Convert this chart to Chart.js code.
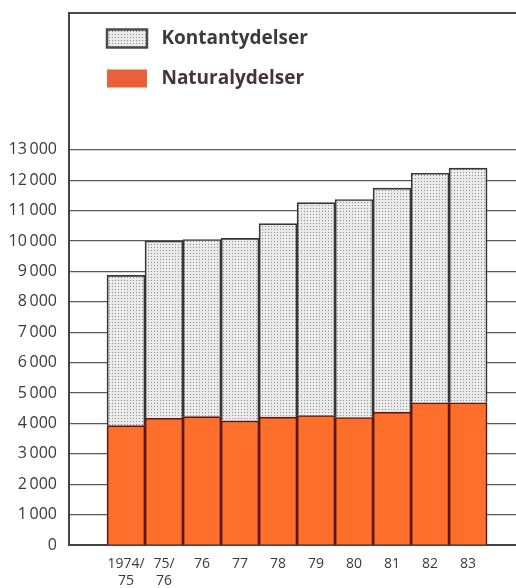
<!DOCTYPE html>
<html>
<head>
<meta charset="utf-8">
<script src="https://cdn.jsdelivr.net/npm/chart.js@4"></script>
<style>
    html, body { margin: 0; padding: 0; background: #fff; }
    #wrap { width: 516px; height: 588px; }
</style>
</head>
<body>
<div id="wrap"><canvas id="chart" width="516" height="588"></canvas></div>
<script>
// years on the x axis (two-line labels for the split years)
const years = [["1974/", "75"], ["75/", "76"], "76", "77", "78", "79", "80", "81", "82", "83"];
// mill. kr
const naturalydelser = [3930, 4170, 4225, 4085, 4205, 4260, 4195, 4370, 4680, 4680];
const kontantydelser = [4940, 5830, 5825, 6005, 6365, 7000, 7170, 7370, 7550, 7715];
const yTicks = [0, 1000, 2000, 3000, 4000, 5000, 6000, 7000, 8000, 9000, 10000, 11000, 12000, 13000];

// dotted grey fill like the printed screen
function dots() {
    let c = document.createElement("canvas");
    c.width = 3;
    c.height = 3;
    let g = c.getContext("2d");
    g.fillStyle = "#ebebeb";
    g.fillRect(0, 0, 3, 3);
    g.fillStyle = "#8a8a8a";
    g.fillRect(1, 1, 1, 1);
    return g.createPattern(c, "repeat");
}
const grey = dots();

// move legend inside the frame, where it sits on the original
const legendNudge = {
    id: "legendNudge",
    afterLayout(chart) {
        chart.legend.left = chart.chartArea.left + 17;
        chart.legend.top = chart.chartArea.top - 5;
    },
};

const ctx = document.getElementById("chart").getContext("2d");
new Chart(ctx, {
    type: "bar",
    data: {
        datasets: [
            {
                label: "Naturalydelser",
                data: naturalydelser.map((v, i) => ({ x: i, y: v })),
                backgroundColor: "#ff6f2c",
                borderColor: "#5a170d",
                borderWidth: 1.7,
                borderSkipped: "bottom",
            },
            {
                label: "Kontantydelser",
                data: kontantydelser.map((v, i) => ({ x: i, y: v })),
                backgroundColor: grey,
                borderColor: "#363636",
                borderWidth: 1.7,
                borderSkipped: "bottom",
            },
        ],
    },
    options: {
        responsive: false,
        animation: false,
        barPercentage: 1,
        categoryPercentage: 1,
        layout: { padding: { top: 13, right: 0, left: 0, bottom: 0 } },
        plugins: {
            tooltip: { enabled: false },
            legend: {
                position: "chartArea",
                align: "start",
                reverse: true,
                labels: {
                    boxWidth: 40,
                    boxHeight: 18,
                    padding: 21,
                    color: "#3b3b3b",
                    font: { family: "Open Sans", size: 19, weight: "bold" },
                    generateLabels(chart) {
                        return chart.data.datasets.map((ds, i) => ({
                            text: " " + ds.label,
                            fillStyle: i == 0 ? "#e9603a" : grey,
                            strokeStyle: "#4a4a4a",
                            lineWidth: i == 0 ? 0 : 2.5,
                            fontColor: i == 0 ? "#45353b" : "#3b3b3b",
                            datasetIndex: i,
                        }));
                    },
                },
            },
        },
        scales: {
            x: {
                type: "linear",
                stacked: true,
                offset: false,
                min: -1.5,
                max: 10.26,
                afterBuildTicks(scale) {
                    scale.ticks = years.map((_, i) => ({ value: i }));
                },
                afterFit(scale) {
                    scale.height = 43;
                },
                grid: { display: false, offset: false, drawTicks: false },
                border: { color: "#444", width: 2 },
                ticks: {
                    padding: 11,
                    color: "#3a3a3a",
                    maxRotation: 0,
                    minRotation: 0,
                    autoSkip: false,
                    font: { family: "Open Sans", size: 14, lineHeight: 1.2 },
                    callback: (v) => years[v],
                },
            },
            top: {
                type: "linear",
                position: "top",
                min: 0,
                max: 1,
                afterFit(scale) {
                    scale.height = 0;
                },
                grid: { display: false, drawTicks: false },
                ticks: { display: false },
                border: { color: "#4a4a4a", width: 2 },
            },
            y: {
                stacked: true,
                min: 0,
                max: 17500,
                afterBuildTicks(scale) {
                    scale.ticks = yTicks.map((v) => ({ value: v }));
                },
                afterFit(scale) {
                    scale.width = 69;
                    scale.paddingTop = 0;
                    scale.paddingBottom = 0;
                },
                grid: { color: "#5a5a5a", lineWidth: 1.2, drawTicks: false },
                border: { color: "#444", width: 2 },
                ticks: {
                    padding: 12,
                    color: "#3a3a3a",
                    font: { family: "Open Sans", size: 16 },
                    callback: (v) => v >= 1000 ? Math.floor(v / 1000) + "\u2009000" : "0",
                },
            },
        },
    },
    plugins: [legendNudge],
});
</script>
</body>
</html>
